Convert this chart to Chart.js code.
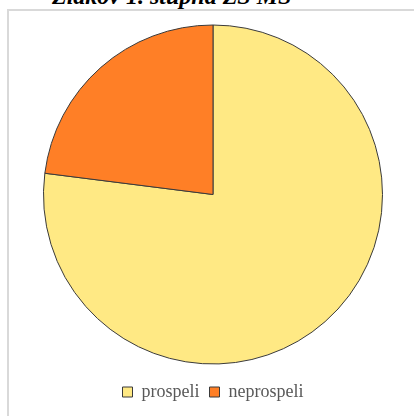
<!DOCTYPE html>
<html lang="sk">
<head>
    <meta charset="UTF-8">
    <title>Žiakov 1. stupňa</title>
    <script src="https://cdn.jsdelivr.net/npm/chart.js"></script>
    <style>
        body {
            margin: 0;
            padding: 0;
            background: #ffffff;
            width: 414px;
            height: 416px;
            overflow: hidden;
            position: relative;
            font-family: "Liberation Serif", "Times New Roman", serif;
        }

        #title {
            position: absolute;
            left: 52px;
            top: -16px;
            font-size: 24px;
            line-height: 24px;
            font-weight: bold;
            font-style: italic;
            color: #000;
            white-space: nowrap;
        }

        #frame {
            position: absolute;
            left: 7px;
            top: 9px;
            width: 430px;
            height: 430px;
            border-left: 2px solid #d9d9d9;
            border-top: 2px solid #d9d9d9;
        }

        #chartContainer {
            position: absolute;
            left: 0;
            top: 0;
            width: 414px;
            height: 416px;
        }
    </style>
</head>
<body>
    <div id="title">Žiakov 1. stupňa ZŠ MŠ</div>
    <div id="frame"></div>
    <div id="chartContainer">
        <canvas id="chart"></canvas>
    </div>

    <script>
        // Dáta grafu
        const labels = ['prospeli', 'neprospeli'];
        const values = [77, 23];
        const colors = ['#ffe984', '#ff7f26'];

        const ctx = document.getElementById('chart').getContext('2d');

        new Chart(ctx, {
            type: 'pie',
            data: {
                labels: labels,
                datasets: [{
                    data: values,
                    backgroundColor: colors,
                    borderColor: '#3a3a3a',
                    borderWidth: 1
                }]
            },
            options: {
                responsive: true,
                maintainAspectRatio: false,
                animation: false,
                devicePixelRatio: 1,
                layout: {
                    padding: { top: 16, left: 43, right: 31, bottom: 5 }
                },
                plugins: {
                    legend: {
                        display: true,
                        position: 'bottom',
                        labels: {
                            boxWidth: 10,
                            boxHeight: 10,
                            padding: 10,
                            color: '#595959',
                            font: { family: '"Liberation Serif", "Times New Roman", serif', size: 18 }
                        }
                    },
                    tooltip: { enabled: false }
                }
            }
        });
    </script>
</body>
</html>
